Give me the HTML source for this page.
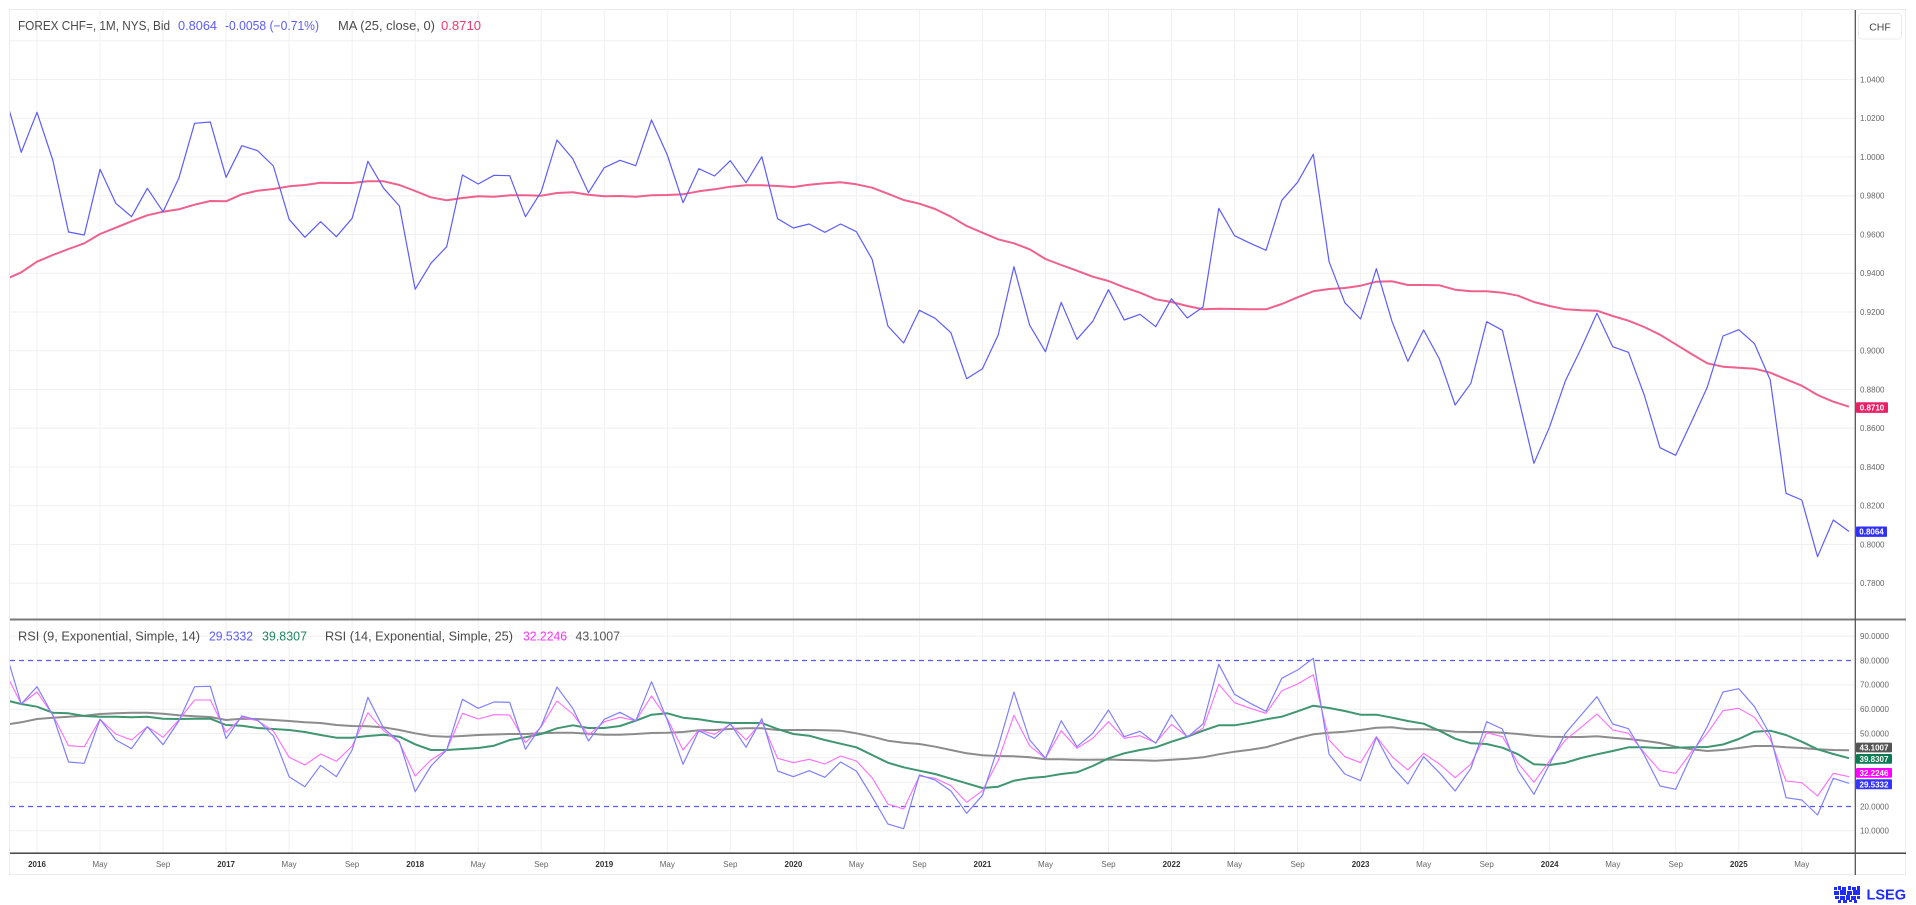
<!DOCTYPE html>
<html><head><meta charset="utf-8"><style>
html,body{margin:0;padding:0;background:#fff;width:1916px;height:905px;overflow:hidden;}
svg{display:block;font-family:"Liberation Sans",sans-serif;}
.pl{font-size:8px;fill:#666;}
.tl{font-size:8px;fill:#666;text-anchor:middle;}
.ty{font-size:8px;fill:#333;font-weight:bold;text-anchor:middle;}
.lg{font-size:12.5px;}
.bx{font-size:8px;fill:#fff;font-weight:bold;text-anchor:middle;}
</style></head><body>
<svg width="1916" height="905" viewBox="0 0 1916 905" xmlns="http://www.w3.org/2000/svg">
<defs>
<clipPath id="cpP"><rect x="10" y="10" width="1845" height="609"/></clipPath>
<clipPath id="cpR"><rect x="10" y="621" width="1845" height="232"/></clipPath>
</defs>
<rect x="9.5" y="9.5" width="1896" height="865" fill="#fff" stroke="#ececec" stroke-width="1"/>

<!-- vertical grid -->
<g transform="translate(37 0) scale(15.757 1)" stroke="#f0f0f2" stroke-width="1">
<line vector-effect="non-scaling-stroke" x1="0" y1="10" x2="0" y2="853"/>
<line vector-effect="non-scaling-stroke" x1="4" y1="10" x2="4" y2="853"/>
<line vector-effect="non-scaling-stroke" x1="8" y1="10" x2="8" y2="853"/>
<line vector-effect="non-scaling-stroke" x1="12" y1="10" x2="12" y2="853"/>
<line vector-effect="non-scaling-stroke" x1="16" y1="10" x2="16" y2="853"/>
<line vector-effect="non-scaling-stroke" x1="20" y1="10" x2="20" y2="853"/>
<line vector-effect="non-scaling-stroke" x1="24" y1="10" x2="24" y2="853"/>
<line vector-effect="non-scaling-stroke" x1="28" y1="10" x2="28" y2="853"/>
<line vector-effect="non-scaling-stroke" x1="32" y1="10" x2="32" y2="853"/>
<line vector-effect="non-scaling-stroke" x1="36" y1="10" x2="36" y2="853"/>
<line vector-effect="non-scaling-stroke" x1="40" y1="10" x2="40" y2="853"/>
<line vector-effect="non-scaling-stroke" x1="44" y1="10" x2="44" y2="853"/>
<line vector-effect="non-scaling-stroke" x1="48" y1="10" x2="48" y2="853"/>
<line vector-effect="non-scaling-stroke" x1="52" y1="10" x2="52" y2="853"/>
<line vector-effect="non-scaling-stroke" x1="56" y1="10" x2="56" y2="853"/>
<line vector-effect="non-scaling-stroke" x1="60" y1="10" x2="60" y2="853"/>
<line vector-effect="non-scaling-stroke" x1="64" y1="10" x2="64" y2="853"/>
<line vector-effect="non-scaling-stroke" x1="68" y1="10" x2="68" y2="853"/>
<line vector-effect="non-scaling-stroke" x1="72" y1="10" x2="72" y2="853"/>
<line vector-effect="non-scaling-stroke" x1="76" y1="10" x2="76" y2="853"/>
<line vector-effect="non-scaling-stroke" x1="80" y1="10" x2="80" y2="853"/>
<line vector-effect="non-scaling-stroke" x1="84" y1="10" x2="84" y2="853"/>
<line vector-effect="non-scaling-stroke" x1="88" y1="10" x2="88" y2="853"/>
<line vector-effect="non-scaling-stroke" x1="92" y1="10" x2="92" y2="853"/>
<line vector-effect="non-scaling-stroke" x1="96" y1="10" x2="96" y2="853"/>
<line vector-effect="non-scaling-stroke" x1="100" y1="10" x2="100" y2="853"/>
<line vector-effect="non-scaling-stroke" x1="104" y1="10" x2="104" y2="853"/>
<line vector-effect="non-scaling-stroke" x1="108" y1="10" x2="108" y2="853"/>
<line vector-effect="non-scaling-stroke" x1="112" y1="10" x2="112" y2="853"/>
</g>

<!-- horizontal grid price -->
<g stroke="#f0f0f2" stroke-width="1">
<line x1="10" y1="40.75" x2="1855" y2="40.75"/>
<line x1="10" y1="79.5" x2="1855" y2="79.5"/>
<line x1="10" y1="118.25" x2="1855" y2="118.25"/>
<line x1="10" y1="157" x2="1855" y2="157"/>
<line x1="10" y1="195.75" x2="1855" y2="195.75"/>
<line x1="10" y1="234.5" x2="1855" y2="234.5"/>
<line x1="10" y1="273.25" x2="1855" y2="273.25"/>
<line x1="10" y1="312" x2="1855" y2="312"/>
<line x1="10" y1="350.75" x2="1855" y2="350.75"/>
<line x1="10" y1="389.5" x2="1855" y2="389.5"/>
<line x1="10" y1="428.25" x2="1855" y2="428.25"/>
<line x1="10" y1="467" x2="1855" y2="467"/>
<line x1="10" y1="505.75" x2="1855" y2="505.75"/>
<line x1="10" y1="544.5" x2="1855" y2="544.5"/>
<line x1="10" y1="583.25" x2="1855" y2="583.25"/>
<!-- rsi grid -->
<line x1="10" y1="636.2" x2="1855" y2="636.2"/>
<line x1="10" y1="684.8" x2="1855" y2="684.8"/>
<line x1="10" y1="709.2" x2="1855" y2="709.2"/>
<line x1="10" y1="733.5" x2="1855" y2="733.5"/>
<line x1="10" y1="757.8" x2="1855" y2="757.8"/>
<line x1="10" y1="782.2" x2="1855" y2="782.2"/>
<line x1="10" y1="830.8" x2="1855" y2="830.8"/>
</g>
<g stroke="#5a5aff" stroke-width="1.2" stroke-dasharray="5,4">
<line x1="10" y1="660.5" x2="1855" y2="660.5"/>
<line x1="10" y1="806.5" x2="1855" y2="806.5"/>
</g>

<!-- price series -->
<g clip-path="url(#cpP)">
<g transform="translate(37 0) scale(15.757 1)" fill="none" stroke-linejoin="round">
<polyline vector-effect="non-scaling-stroke" stroke="#f0608c" stroke-width="2" points="-2,279.4 -1,272.3 0,261.7 1,255 2,249 3,243.3 4,234 5,227.7 6,221.3 7,215.3 8,211.7 9,209.3 10,204.7 11,201 12,201.3 13,194.3 14,190.7 15,189 16,186.3 17,185 18,182.7 19,183 20,183 21,181.3 22,181.3 23,185 24,191 25,197.3 26,200.3 27,198 28,196.3 29,196.7 30,195.3 31,195.3 32,195.7 33,193 34,192.3 35,194.7 36,196.3 37,196 38,196.7 39,195.3 40,195 41,194.3 42,191.3 43,189.3 44,186.7 45,185.3 46,185.3 47,186 48,187 49,184.7 50,183.3 51,182.3 52,184.3 53,187.7 54,193.7 55,200 56,203.7 57,209 58,216.7 59,226 60,232.7 61,239.3 62,243.3 63,249.3 64,259 65,265 66,270.7 67,276.7 68,281 69,287.3 70,292.7 71,299.3 72,302 73,306 74,309.3 75,308.7 76,309 77,309.3 78,309.3 79,304 80,297.3 81,291.3 82,289 83,288 84,285.7 85,281.7 86,281.3 87,285 88,285 89,285.3 90,289.7 91,291.3 92,291.3 93,292.7 94,295.7 95,302 96,306 97,309.3 98,310.3 99,310.7 100,316 101,320.7 102,327 103,334.7 104,344.3 105,354 106,363.3 107,366.7 108,367.7 109,368.7 110,372.7 111,379.3 112,385.7 113,395 114,401.7 115,406.7"/>
<polyline vector-effect="non-scaling-stroke" stroke="#5d5dff" stroke-width="1.2" points="-2,97 -1,152.3 0,112.3 1,160 2,232 3,235 4,169.3 5,203.3 6,216.7 7,188.3 8,211.7 9,178.3 10,123.3 11,122 12,177.3 13,145.7 14,150.7 15,166 16,219.3 17,237.3 18,221.7 19,236.7 20,218.3 21,161.3 22,188.3 23,206 24,289.3 25,263.3 26,246.7 27,175 28,184 29,175.3 30,175.7 31,216.7 32,191.7 33,140 34,158.7 35,192.7 36,167.7 37,160.3 38,165.7 39,120 40,155 41,202.7 42,168.7 43,176 44,160.7 45,182.7 46,156.7 47,218.7 48,228 49,224 50,232.3 51,224 52,231.7 53,259.3 54,326 55,343 56,310.3 57,318.3 58,332.7 59,378.7 60,368.7 61,335 62,266.7 63,325.3 64,351.7 65,302.3 66,339.3 67,321.3 68,289.7 69,320 70,314.3 71,326.7 72,298.7 73,318 74,307 75,208.3 76,235.7 77,243.3 78,250.3 79,200.3 80,182.3 81,154.3 82,261.7 83,302.7 84,319 85,268.7 86,321.7 87,361.3 88,330 89,359 90,405 91,383.3 92,321.7 93,330.3 94,396.7 95,463.3 96,426.7 97,380.7 98,348.3 99,313.3 100,346.7 101,352.3 102,395 103,447.7 104,455.3 105,421.7 106,387.3 107,336 108,329.7 109,343.7 110,380 111,493.3 112,500 113,556.7 114,520 115,531.5"/>
</g></g>

<!-- RSI series -->
<g clip-path="url(#cpR)">
<g transform="translate(37 0) scale(15.757 1)" fill="none" stroke-linejoin="round">
<polyline vector-effect="non-scaling-stroke" stroke="#8c8c8c" stroke-width="2" points="-2,724.7 -1,722.3 0,719 1,717.7 2,716.7 3,715.7 4,714 5,713.3 6,712.7 7,712.7 8,713.7 9,715.3 10,716.3 11,717 12,720 13,718.7 14,719 15,720 16,721 17,722.3 18,723 19,725 20,726 21,726.3 22,727.3 23,730 24,733.3 25,736 26,736.7 27,736 28,735 29,734.5 30,734 31,734 32,733.3 33,732.7 34,732.7 35,733.7 36,734.7 37,734.7 38,734 39,733 40,732.7 41,732 42,730.3 43,730 44,729 45,728.3 46,728.3 47,730 48,730 49,730 50,730.3 51,730.7 52,733.3 53,736.7 54,740.7 55,742.7 56,744 57,746.7 58,750 59,753.3 60,755.3 61,756 62,756.3 63,757.3 64,759.3 65,759.3 66,759.7 67,759.7 68,759.5 69,760 70,760.3 71,760.7 72,759.7 73,758.7 74,757.3 75,754.3 76,751.7 77,749.7 78,747.3 79,742.7 80,738 81,734.3 82,732.7 83,731.7 84,730 85,727.7 86,727.3 87,729.3 88,729.3 89,730 90,731.7 91,732 92,732 93,732.7 94,734 95,735.7 96,736.7 97,737 98,737 99,736.3 100,737.7 101,739 102,740.7 103,743 104,746.7 105,749.3 106,751 107,750 108,748 109,746 110,746 111,747.3 112,748 113,749.3 114,750 115,750.3"/>
<polyline vector-effect="non-scaling-stroke" stroke="#3f9670" stroke-width="2" points="-2,700.2 -1,704 0,706.7 1,712.7 2,713.3 3,716 4,716.7 5,716.7 6,717.3 7,716.7 8,718.7 9,719 10,718.7 11,718.7 12,725 13,725.7 14,728 15,729 16,730 17,732 18,735 19,737.7 20,737.7 21,736 22,734.7 23,736.7 24,744.3 25,750 26,750 27,749 28,748 29,745.7 30,740 31,737.3 32,734 33,728.3 34,725.3 35,728 36,728 37,726 38,720.7 39,714.7 40,713.3 41,717.7 42,719.3 43,721.7 44,723 45,723 46,723 47,729 48,734 49,735.7 50,740 51,743.7 52,747.3 53,755 54,762.7 55,767.3 56,770.7 57,774 58,778.7 59,783.3 60,788 61,786.7 62,780.7 63,778 64,776.7 65,774 66,772.3 67,766 68,758.3 69,753.3 70,750 71,747.3 72,741.7 73,736.7 74,730.7 75,725.3 76,725.3 77,722.7 78,719.3 79,716.7 80,711.3 81,705.7 82,708 83,711 84,714.7 85,714.7 86,717.7 87,721 88,723.7 89,730.7 90,738.7 91,743.3 92,744 93,747.7 94,754.3 95,764.3 96,765 97,762.7 98,758 99,754.3 100,751 101,747.3 102,747.3 103,748 104,747.7 105,747.3 106,747 107,744.5 108,739 109,731.7 110,730.7 111,735 112,741.7 113,749.3 114,754 115,758.2"/>
<polyline vector-effect="non-scaling-stroke" stroke="#ff6cff" stroke-width="1.1" points="-2,672.6 -1,704 0,692 1,715 2,745.7 3,746.7 4,719.3 5,734 6,740 7,726.7 8,737.3 9,720 10,700 11,700 12,732.3 13,717.3 14,720.7 15,731 16,757.3 17,765 18,754 19,761.3 20,746 21,712.7 22,730.7 23,742.7 24,776 25,760 26,750 27,713.3 28,719 29,714.7 30,715 31,742.7 32,726.7 33,701 34,714 35,735 36,721.7 37,717.3 38,720.7 39,696 40,718.7 41,750 42,730 43,734.3 44,724.3 45,740 46,721.7 47,758.3 48,762.7 49,759.3 50,764 51,756 52,761 53,777.7 54,804 55,809 56,776 57,778.3 58,785.7 59,802.3 60,790.7 61,760.7 62,715.3 63,746 64,758.3 65,730.7 66,748.3 67,738.3 68,721.7 69,738.3 70,735.7 71,742.7 72,724.3 73,736.7 74,728.3 75,684.3 76,702.7 77,708.3 78,713.3 79,690.7 80,684 81,674.7 82,740 83,756.7 84,762.7 85,736.7 86,756.7 87,770 88,753.3 89,764 90,777.7 91,764 92,732.7 93,736.7 94,763.3 95,782.3 96,760.7 97,740 98,727.3 99,714 100,730 101,733.3 102,752.7 103,770.7 104,773.3 105,751.7 106,733.3 107,710.7 108,708.3 109,717.3 110,739.3 111,781 112,782.7 113,796 114,773.3 115,776.7"/>
<polyline vector-effect="non-scaling-stroke" stroke="#8080ff" stroke-width="1.2" points="-2,651 -1,704 0,686.7 1,715 2,762 3,763.3 4,719.3 5,740 6,748.7 7,726.7 8,744.7 9,721 10,686.7 11,686.3 12,738.7 13,716 14,720 15,736 16,776.7 17,786.7 18,765.3 19,776.7 20,750 21,697.3 22,728.3 23,741.7 24,791.7 25,766 26,750 27,699.3 28,708.3 29,702 30,702.3 31,749.3 32,726 33,687 34,708.3 35,741 36,719.3 37,712.3 38,720.7 39,681.7 40,720 41,764.3 42,730.7 43,738.3 44,723.7 45,747.3 46,718.7 47,771 48,776.7 49,770.7 50,777.3 51,762 52,771 53,796.7 54,824 55,828.7 56,775 57,780 58,791 59,813.3 60,795.3 61,746.7 62,692 63,740 64,758.3 65,720.7 66,746.7 67,733.3 68,710 69,736.7 70,731.3 71,743.3 72,714.7 73,737.3 74,724 75,664.3 76,694.3 77,703.3 78,711.3 79,678.3 80,670 81,658.3 82,754.3 83,774 84,780.7 85,737.3 86,766.7 87,784 88,756.7 89,772.7 90,791 91,768.3 92,721.7 93,729 94,770.7 95,794.3 96,764 97,733.3 98,715 99,696.7 100,724 101,728.7 102,755 103,786 104,789.3 105,755 106,726.7 107,692 108,688.7 109,706.7 110,735 111,797.7 112,800 113,815 114,778.3 115,783.3"/>
</g></g>

<!-- axes lines -->
<line x1="10" y1="619.5" x2="1906" y2="619.5" stroke="#7a7a7a" stroke-width="2"/>
<line x1="10" y1="853.2" x2="1906" y2="853.2" stroke="#333" stroke-width="1.3"/>
<line x1="1855.3" y1="10" x2="1855.3" y2="875" stroke="#555" stroke-width="1.3"/>

<!-- CHF box -->
<rect x="1858.5" y="13.5" width="43" height="25.5" rx="3" fill="#fff" stroke="#ececec"/>
<text x="1880" y="30.5" font-size="10.5" fill="#444" text-anchor="middle">CHF</text>

<!-- price axis labels -->
<g class="pl">
<text x="1860" y="82.3">1.0400</text>
<text x="1860" y="121">1.0200</text>
<text x="1860" y="159.8">1.0000</text>
<text x="1860" y="198.5">0.9800</text>
<text x="1860" y="237.3">0.9600</text>
<text x="1860" y="276">0.9400</text>
<text x="1860" y="314.8">0.9200</text>
<text x="1860" y="353.5">0.9000</text>
<text x="1860" y="392.3">0.8800</text>
<text x="1860" y="431">0.8600</text>
<text x="1860" y="469.8">0.8400</text>
<text x="1860" y="508.5">0.8200</text>
<text x="1860" y="547.3">0.8000</text>
<text x="1860" y="586">0.7800</text>
<text x="1860" y="639">90.0000</text>
<text x="1860" y="663.3">80.0000</text>
<text x="1860" y="687.6">70.0000</text>
<text x="1860" y="712">60.0000</text>
<text x="1860" y="736.3">50.0000</text>
<text x="1860" y="809.3">20.0000</text>
<text x="1860" y="833.6">10.0000</text>
</g>

<!-- value boxes -->
<rect x="1856" y="402.3" width="32" height="10.6" rx="1" fill="#ea2064"/>
<text class="bx" x="1872" y="410.5">0.8710</text>
<rect x="1856" y="526.5" width="31" height="10.4" rx="1" fill="#2f2fff"/>
<text class="bx" x="1871.5" y="534.6">0.8064</text>
<rect x="1856" y="742.6" width="36" height="9.8" rx="1" fill="#555"/>
<text class="bx" x="1874" y="750.5">43.1007</text>
<rect x="1856" y="754" width="36" height="9.8" rx="1" fill="#0c7a52"/>
<text class="bx" x="1874" y="761.9">39.8307</text>
<rect x="1856" y="768" width="36" height="9.8" rx="1" fill="#ff00ff"/>
<text class="bx" x="1874" y="775.9">32.2246</text>
<rect x="1856" y="779.3" width="36" height="10" rx="1" fill="#3535ff"/>
<text class="bx" x="1874" y="787.3">29.5332</text>

<!-- time labels -->
<g>
<text class="ty" x="37" y="867">2016</text>
<text class="tl" x="100" y="867">May</text>
<text class="tl" x="163.1" y="867">Sep</text>
<text class="ty" x="226.1" y="867">2017</text>
<text class="tl" x="289.1" y="867">May</text>
<text class="tl" x="352.1" y="867">Sep</text>
<text class="ty" x="415.2" y="867">2018</text>
<text class="tl" x="478.2" y="867">May</text>
<text class="tl" x="541.2" y="867">Sep</text>
<text class="ty" x="604.3" y="867">2019</text>
<text class="tl" x="667.3" y="867">May</text>
<text class="tl" x="730.3" y="867">Sep</text>
<text class="ty" x="793.4" y="867">2020</text>
<text class="tl" x="856.4" y="867">May</text>
<text class="tl" x="919.4" y="867">Sep</text>
<text class="ty" x="982.4" y="867">2021</text>
<text class="tl" x="1045.5" y="867">May</text>
<text class="tl" x="1108.5" y="867">Sep</text>
<text class="ty" x="1171.5" y="867">2022</text>
<text class="tl" x="1234.6" y="867">May</text>
<text class="tl" x="1297.6" y="867">Sep</text>
<text class="ty" x="1360.6" y="867">2023</text>
<text class="tl" x="1423.7" y="867">May</text>
<text class="tl" x="1486.7" y="867">Sep</text>
<text class="ty" x="1549.7" y="867">2024</text>
<text class="tl" x="1612.8" y="867">May</text>
<text class="tl" x="1675.8" y="867">Sep</text>
<text class="ty" x="1738.8" y="867">2025</text>
<text class="tl" x="1801.8" y="867">May</text>
</g>

<!-- top legend -->
<g class="lg">
<text x="18" y="30" fill="#4a4a4a" textLength="152" lengthAdjust="spacingAndGlyphs">FOREX CHF=, 1M, NYS, Bid</text>
<text x="178" y="30" fill="#5b5bff" textLength="39" lengthAdjust="spacingAndGlyphs">0.8064</text>
<text x="225" y="30" fill="#5b5bff" textLength="94" lengthAdjust="spacingAndGlyphs">-0.0058 (−0.71%)</text>
<text x="338" y="30" fill="#4a4a4a" textLength="97" lengthAdjust="spacingAndGlyphs">MA (25, close, 0)</text>
<text x="441" y="30" fill="#f0386b" textLength="40" lengthAdjust="spacingAndGlyphs">0.8710</text>
</g>
<!-- rsi legend -->
<g class="lg">
<text x="18" y="640.5" fill="#4a4a4a" textLength="182" lengthAdjust="spacingAndGlyphs">RSI (9, Exponential, Simple, 14)</text>
<text x="209" y="640.5" fill="#5b5bff" textLength="44" lengthAdjust="spacingAndGlyphs">29.5332</text>
<text x="262" y="640.5" fill="#1e8a5e" textLength="45" lengthAdjust="spacingAndGlyphs">39.8307</text>
<text x="325" y="640.5" fill="#4a4a4a" textLength="188" lengthAdjust="spacingAndGlyphs">RSI (14, Exponential, Simple, 25)</text>
<text x="523" y="640.5" fill="#ff33ff" textLength="44" lengthAdjust="spacingAndGlyphs">32.2246</text>
<text x="575.5" y="640.5" fill="#555" textLength="44.5" lengthAdjust="spacingAndGlyphs">43.1007</text>
</g>

<!-- LSEG logo -->
<g fill="#1f2bff">
<rect x="1834" y="887" width="3" height="3"/><rect x="1838" y="886" width="3" height="4"/><rect x="1842" y="887" width="4" height="3"/>
<rect x="1848" y="886" width="3" height="4"/><rect x="1852" y="887" width="4" height="3"/><rect x="1857" y="886" width="3" height="4"/>
<rect x="1834" y="891" width="5" height="4"/><rect x="1840" y="890" width="6" height="5"/><rect x="1847" y="891" width="5" height="4"/>
<rect x="1853" y="890" width="7" height="5"/>
<rect x="1835" y="896" width="4" height="3"/><rect x="1840" y="896" width="5" height="4"/><rect x="1846" y="895" width="4" height="5"/>
<rect x="1851" y="896" width="5" height="4"/><rect x="1857" y="896" width="3" height="3"/>
<rect x="1838" y="900" width="3" height="3"/><rect x="1843" y="900" width="4" height="3"/><rect x="1849" y="900" width="3" height="2"/><rect x="1854" y="900" width="3" height="3"/>
</g>
<text x="1866.5" y="899.5" font-size="15" font-weight="bold" fill="#1f2bff" textLength="39.5" lengthAdjust="spacingAndGlyphs">LSEG</text>
</svg>
</body></html>
